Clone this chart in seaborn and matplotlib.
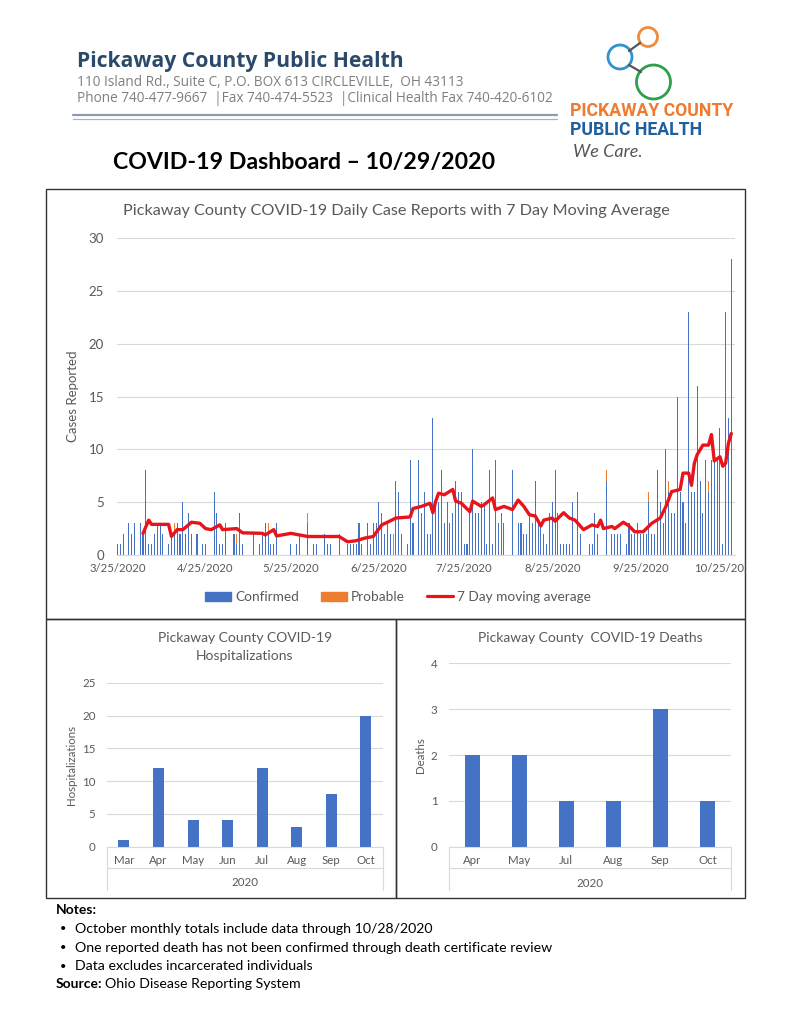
import numpy as np
import pandas as pd
import matplotlib
matplotlib.use("Agg")
import matplotlib.pyplot as plt
import seaborn as sns
from matplotlib.patches import Rectangle, Circle, Patch
from matplotlib.lines import Line2D
from matplotlib.transforms import Bbox, TransformedBbox

# page size in pixels
W, H = 791, 1024

# Daily case reports, one value per day starting 3/25/2020
start_date = "2020-03-25"
confirmed = [
    # 3/25 - 4/24
    1, 1, 2, 0, 3, 2, 3, 0, 3, 2, 8, 1, 1, 2, 3, 3, 2, 0, 1, 2, 2, 3, 2, 5, 2, 4, 2, 0, 2, 0, 1,
    # 4/25 - 5/24
    1, 0, 0, 6, 4, 1, 1, 3, 0, 0, 2, 1, 4, 1, 0, 0, 0, 2, 0, 1, 2, 3, 2, 1, 1, 3, 0, 0, 0, 0,
    # 5/25 - 6/24
    1, 0, 1, 2, 0, 0, 3, 0, 1, 1, 0, 0, 2, 1, 1, 0, 0, 2, 0, 0, 1, 1, 1, 1, 3, 1, 0, 3, 1, 3, 3,
    # 6/25 - 7/24
    5, 4, 2, 3, 2, 0, 7, 6, 2, 0, 1, 9, 3, 0, 9, 4, 6, 2, 2, 13, 5, 5, 8, 3, 5, 3, 4, 7, 6, 6,
    # 7/25 - 8/24
    1, 1, 4, 10, 4, 4, 5, 5, 1, 8, 1, 9, 3, 4, 3, 0, 0, 8, 0, 3, 3, 2, 2, 4, 3, 7, 3, 3, 2, 1, 4,
    # 8/25 - 9/24
    5, 8, 4, 1, 1, 1, 1, 5, 0, 6, 2, 0, 0, 1, 1, 4, 2, 0, 0, 7, 0, 2, 2, 2, 2, 0, 1, 3, 2, 2, 3,
    # 9/25 - 10/24
    2, 2, 2, 5, 2, 2, 8, 5, 3, 10, 6, 4, 4, 15, 6, 5, 3, 23, 6, 6, 16, 7, 4, 9, 6, 9, 9, 9, 12, 1,
    # 10/25 - 10/27
    23, 13, 28,
]
probable_dates = ["2020-04-14", "2020-05-06", "2020-05-17", "2020-05-31", "2020-06-30",
                  "2020-09-13", "2020-09-28", "2020-10-05", "2020-10-19"]
probable_counts = [1, 1, 1, 1, 2, 1, 1, 1, 1]

# 7 day moving average (day = days since 3/25/2020)
ma_day = [9, 11, 12, 18, 19, 21, 23, 25, 26, 29, 31, 33, 36, 37, 42, 44, 51, 52, 55, 56,
          61, 64, 67, 73, 78, 81, 84, 87, 90, 93, 95, 98, 103, 104, 107, 110, 111, 112, 113, 115,
          118, 119, 121, 124, 125, 128, 129, 132, 133, 136, 139, 141, 143, 145, 147, 149, 150, 153,
          154, 157, 159, 161, 164, 167, 169, 170, 171, 174, 175, 178, 180, 182, 185, 188, 191, 193,
          195, 198, 199, 201, 202, 203, 204, 206, 208, 209, 210, 212, 213, 214, 215, 216]
ma_value = [2.05, 3.3, 2.9, 2.9, 1.75, 2.4, 2.4, 2.85, 3.1, 3.0, 2.5, 2.4, 2.85, 2.4, 2.5, 2.1,
            2.05, 1.9, 2.4, 1.8, 2.05, 1.9, 1.75, 1.75, 1.75, 1.25, 1.35, 1.6, 1.75, 2.85, 3.1, 3.5,
            3.6, 4.4, 4.6, 4.9, 4.0, 5.1, 5.85, 5.7, 6.2, 5.1, 4.9, 4.1, 5.1, 4.6, 4.75, 5.4, 4.3,
            4.6, 4.3, 5.2, 4.6, 3.8, 3.7, 2.75, 3.3, 3.5, 3.2, 4.0, 3.5, 3.3, 2.4, 2.85, 2.7, 3.3,
            2.5, 2.7, 2.5, 3.1, 2.75, 2.2, 2.2, 3.0, 3.5, 4.6, 6.0, 6.2, 7.75, 7.75, 6.6, 8.7, 9.5,
            10.4, 10.4, 11.4, 8.9, 9.3, 8.4, 8.7, 10.6, 11.5]

tick_dates = ["2020-03-25", "2020-04-25", "2020-05-25", "2020-06-25",
              "2020-07-25", "2020-08-25", "2020-09-25", "2020-10-25"]
tick_labels = ["3/25/2020", "4/25/2020", "5/25/2020", "6/25/2020",
               "7/25/2020", "8/25/2020", "9/25/2020", "10/25/2020"]

hosp_months = ["Mar", "Apr", "May", "Jun", "Jul", "Aug", "Sep", "Oct"]
hosp_counts = [1, 12, 4, 4, 12, 3, 8, 20]

death_months = ["Apr", "May", "Jul", "Aug", "Sep", "Oct"]
death_counts = [2, 2, 1, 1, 3, 1]

BLUE = "#4472C4"
ORANGE = "#ED7D31"
RED = "#E8141A"
GREY_TXT = "#595959"
GRID = "#D9D9D9"

sns.set_style("white")
plt.rcParams["font.family"] = ["Lato", "DejaVu Sans"]

fig = plt.figure(figsize=(W / 100, H / 100), dpi=100)


def rect(l, t, r, b):
    # pixel box -> figure fraction
    return [l / W, 1 - b / H, (r - l) / W, (b - t) / H]


# decoration layer in pixel coordinates
deco = fig.add_axes([0, 0, 1, 1], zorder=0)
deco.set_xlim(0, W)
deco.set_ylim(H, 0)
deco.axis("off")

# letterhead
deco.text(77, 62, "Pickaway County Public Health", family="Open Sans", weight="bold",
          fontsize=15.2, color="#2B4A6B", va="center", ha="left")
deco.text(77, 82, "110 Island Rd., Suite C, P.O. BOX 613 CIRCLEVILLE,  OH 43113",
          family="Open Sans", fontsize=9.8, color="#7F7F7F", va="center", ha="left")
deco.text(77, 99, "Phone 740-477-9667  |Fax 740-474-5523  |Clinical Health Fax 740-420-6102",
          family="Open Sans", fontsize=9.8, color="#7F7F7F", va="center", ha="left")
deco.plot([73, 557], [115, 115], color="#8C9BB0", lw=1.6)
deco.plot([73, 557], [119, 119], color="#A6B2C2", lw=0.9)

# logo
deco.add_patch(Circle((648, 37), 9.5, fill=False, ec="#F08A3C", lw=2))
deco.add_patch(Circle((620, 57), 12, fill=False, ec="#2E93CF", lw=2))
deco.add_patch(Circle((653.5, 82), 17, fill=False, ec="#2E9E4F", lw=2))
deco.plot([629, 640], [51, 43], color="#555555", lw=1.6)
deco.plot([629, 641], [65, 72], color="#555555", lw=1.6)
deco.text(570, 111, "PICKAWAY COUNTY", family="Roboto", weight="bold", fontsize=12.7,
          color="#EE7B30", va="center", ha="left")
deco.text(570, 130, "PUBLIC HEALTH", family="Roboto", weight="bold", fontsize=12.7,
          color="#1F5F9E", va="center", ha="left")
deco.text(573, 152, "We Care.", family="Lato", style="italic", fontsize=13,
          color="#555555", va="center", ha="left")

deco.text(304, 162, "COVID-19 Dashboard \u2013 10/29/2020", weight="bold", fontsize=16.7,
          color="black", va="center", ha="center")

# panel frames
for l, t, r, b in [(46, 189, 745, 619), (46, 619, 396, 898), (396, 619, 745, 898)]:
    deco.add_patch(Rectangle((l, t), r - l, b - t, fill=False, ec="#333333", lw=1))

# ---------------- daily cases
daily = pd.DataFrame({"date": pd.date_range(start_date, periods=len(confirmed)),
                      "confirmed": confirmed})
prob = pd.Series(probable_counts, index=pd.to_datetime(probable_dates))
daily["probable"] = daily["date"].map(prob).fillna(0)
daily["total"] = daily["confirmed"] + daily["probable"]
daily["day"] = (daily["date"] - daily["date"].iloc[0]).dt.days

ax = fig.add_axes(rect(116.6, 238, 735, 555))
ax.set_facecolor("none")
sns.barplot(data=daily, x="day", y="total", native_scale=True, color=ORANGE, width=0.38,
            saturation=1, errorbar=None, linewidth=0, ax=ax)
sns.barplot(data=daily, x="day", y="confirmed", native_scale=True, color=BLUE, width=0.38,
            saturation=1, errorbar=None, linewidth=0, ax=ax)
sns.lineplot(x=ma_day, y=ma_value, color=RED, linewidth=2.4, ax=ax)

ax.set_ylim(0, 30)
ax.set_yticks(range(0, 31, 5))
ax.set_xlim(-0.3, len(confirmed) + 0.3)
ticks = [(pd.Timestamp(t) - pd.Timestamp(start_date)).days for t in tick_dates]
ax.set_xticks(ticks, tick_labels)
ax.yaxis.grid(True, color=GRID, lw=0.8)
ax.set_axisbelow(True)
for s in ["top", "right", "left"]:
    ax.spines[s].set_visible(False)
ax.spines["bottom"].set_color(GRID)
ax.tick_params(axis="y", length=0, pad=9, labelsize=9.5, labelcolor=GREY_TXT)
ax.tick_params(axis="x", length=0, pad=6, labelsize=8.2, labelcolor=GREY_TXT)
ax.set_xlabel("")
ax.set_ylabel("Cases Reported", fontsize=9.5, color=GREY_TXT)
ax.yaxis.set_label_coords(-0.061, 0.5)

clip = TransformedBbox(Bbox([[46 / W, 1 - 619 / H], [746 / W, 1 - 189 / H]]), fig.transFigure)
for lbl in ax.get_xticklabels():
    lbl.set_clip_on(True)
    lbl.set_clip_box(clip)

deco.text(396, 211, "Pickaway County COVID-19 Daily Case Reports with 7 Day Moving Average",
          fontsize=11.7, color=GREY_TXT, ha="center", va="center")

handles = [Patch(color=BLUE), Patch(color=ORANGE), Line2D([], [], color=RED, lw=2.3)]
fig.legend(handles, ["Confirmed", "Probable", "7 Day moving average"], ncol=3,
           loc="center", bbox_to_anchor=(398 / W, 1 - 597 / H), frameon=False,
           fontsize=9.8, labelcolor=GREY_TXT, handlelength=1.9, handleheight=0.6,
           handletextpad=0.3, columnspacing=1.6)


# ---------------- monthly bars
def monthly(box, cats, vals, ymax, step, title, ylabel, ylab_x, year_y, lines_y, title_y):
    a = fig.add_axes(rect(*box))
    a.set_facecolor("none")
    frame = pd.DataFrame({"month": cats, "count": vals})
    sns.barplot(data=frame, x="month", y="count", color=BLUE, width=0.32, saturation=1,
                errorbar=None, linewidth=0, ax=a)
    a.set_xlim(-0.5, len(cats) - 0.5)
    a.set_ylim(0, ymax)
    a.set_yticks(np.arange(0, ymax + 0.1, step))
    a.yaxis.grid(True, color=GRID, lw=0.8)
    a.set_axisbelow(True)
    for s in ["top", "right", "left"]:
        a.spines[s].set_visible(False)
    a.spines["bottom"].set_color(GRID)
    a.tick_params(axis="y", length=0, pad=8, labelsize=8.3, labelcolor=GREY_TXT)
    a.tick_params(axis="x", length=0, pad=6, labelsize=8.3, labelcolor=GREY_TXT)
    a.set_xlabel("")
    a.set_ylabel(ylabel, fontsize=8.3, color=GREY_TXT)
    a.yaxis.set_label_coords(ylab_x, 0.5)
    a.text(0.5, year_y, "2020", transform=a.transAxes, ha="center", va="center",
           fontsize=8.3, color=GREY_TXT)
    a.plot([0, 0], [0, lines_y[1]], transform=a.transAxes, clip_on=False, color=GRID, lw=0.8)
    a.plot([1, 1], [0, lines_y[1]], transform=a.transAxes, clip_on=False, color=GRID, lw=0.8)
    a.plot([0, 1], [lines_y[0], lines_y[0]], transform=a.transAxes, clip_on=False,
           color=GRID, lw=0.8)
    cx = (box[0] + box[2]) / 2
    deco.text(cx, title_y, title, fontsize=10, color=GREY_TXT, ha="center", va="center",
              linespacing=1.5)
    return a


monthly((106.7, 682.7, 383, 846.7), hosp_months, hosp_counts, 25, 5,
        "Pickaway County COVID-19\nHospitalizations", "Hospitalizations",
        -0.107, -0.221, (-0.13, -0.264), 647)
monthly((448.7, 663.3, 731, 846.7), death_months, death_counts, 4, 1,
        "Pickaway County  COVID-19 Deaths", "Deaths",
        -0.080, -0.198, (-0.116, -0.236), 638)

# ---------------- notes
deco.text(56, 910, "Notes:", weight="bold", fontsize=10, color="black", va="center")
notes = ["October monthly totals include data through 10/28/2020",
         "One reported death has not been confirmed through death certificate review",
         "Data excludes incarcerated individuals"]
for i, n in enumerate(notes):
    y = 929 + i * 18.5
    deco.text(60, y, "\u2022", fontsize=8, color="black", va="center")
    deco.text(75, y, n, fontsize=10.2, color="black", va="center")
deco.text(56, 984, "Source:", weight="bold", fontsize=10, color="black", va="center")
deco.text(105, 984, "Ohio Disease Reporting System", fontsize=10.2, color="black", va="center")

fig.savefig("out.png", dpi=100)
